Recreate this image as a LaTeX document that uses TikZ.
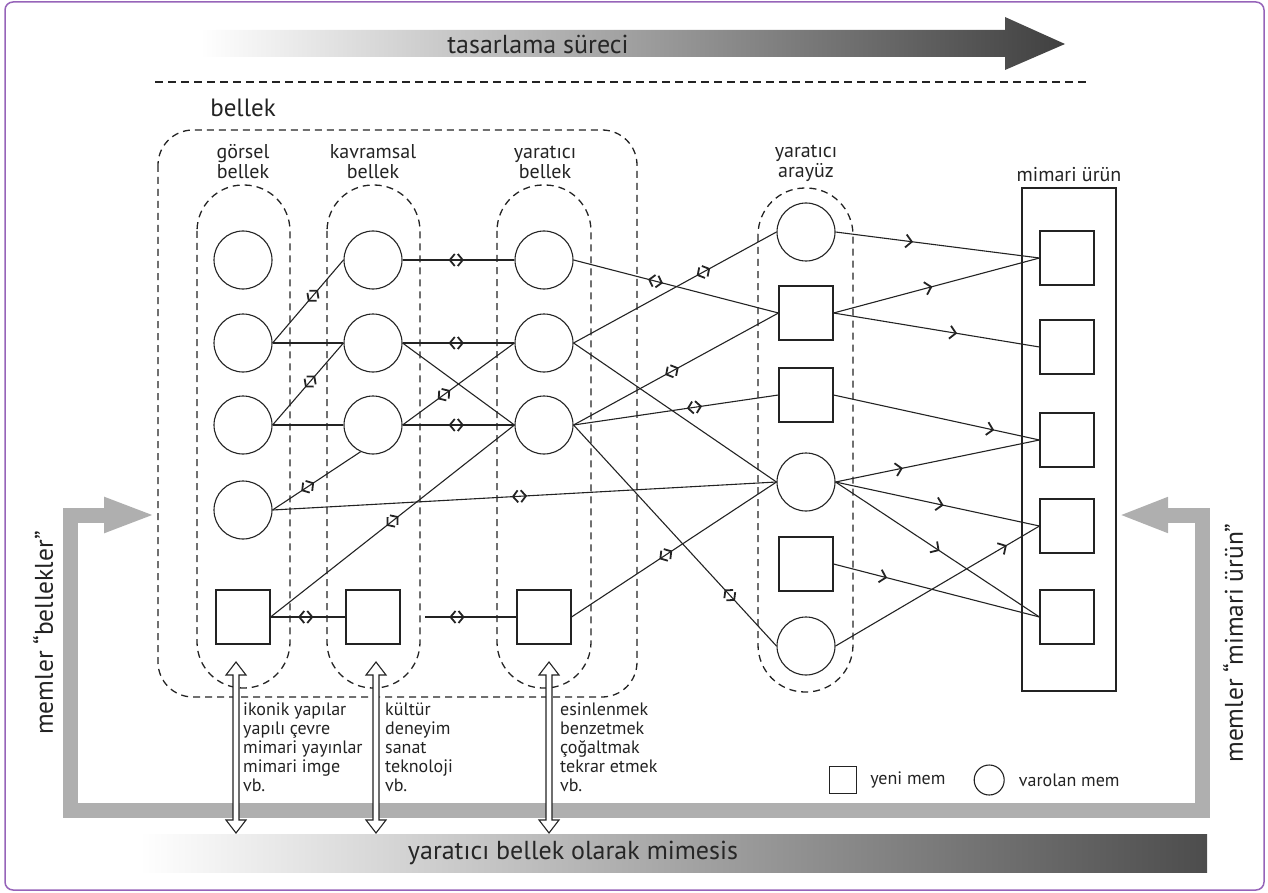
\documentclass[tikz,border=0pt]{standalone}
\usepackage{fontspec}
\setmainfont{PT Sans}
\usetikzlibrary{arrows.meta, positioning, decorations.markings}
\definecolor{ink}{RGB}{35, 35, 35}
\definecolor{frame}{RGB}{150, 100, 185}
\definecolor{feed}{RGB}{175, 175, 175}
\newcommand{\hollowarrow}[3]{%
  \filldraw[draw=ink, fill=white, line width=1.1pt]
    (#1-3,#2+13) -- (#1-10,#2+13) -- (#1,#2) -- (#1+10,#2+13) -- (#1+3,#2+13)
    -- (#1+3,#3-13) -- (#1+10,#3-13) -- (#1,#3) -- (#1-10,#3-13) -- (#1-3,#3-13) -- cycle;}

\begin{document}
\begin{tikzpicture}[x=1pt, y=-1pt,
    mem/.style={draw=ink, line width=1.1pt, circle, minimum size=58pt, inner sep=0pt},
    newmem/.style={draw=ink, line width=1.1pt, rectangle, minimum size=54pt, inner sep=0pt},
    grp/.style={draw=ink, dash pattern=on 7pt off 5pt, line width=1.3pt},
    lbl/.style={align=center, text=ink, inner sep=0pt, font=\fontsize{20}{20}\selectfont},
    list/.style={align=left, text=ink, inner sep=0pt, anchor=north west, font=\fontsize{18}{19}\selectfont},
    banner/.style={text=black!85, inner sep=0pt, font=\fontsize{26}{26}\selectfont},
    side/.style={text=ink, inner sep=0pt, rotate=90, font=\fontsize{25.5}{26}\selectfont},
    legend/.style={text=ink, inner sep=0pt, font=\fontsize{18}{18}\selectfont},
    con/.style={draw=ink, line width=1.1pt},
    bidir/.style={postaction={decorate, decoration={markings, mark=at position #1 with
      {\draw[ink, line width=1.8pt, line join=miter] (-1.5pt,-6pt) -- (-6.5pt,0pt) -- (-1.5pt,6pt)
         (1.5pt,-6pt) -- (6.5pt,0pt) -- (1.5pt,6pt);}}}},
    fwd/.style={postaction={decorate, decoration={markings, mark=at position #1 with
      {\arrow[ink]{Straight Barb[length=6pt,width=13pt,line width=1.8pt]}}}}},
    feedback/.style={draw=feed, line width=15pt, {Triangle[length=52pt,width=32pt]}-{Triangle[length=50pt,width=32pt]}}
  ]
  \useasboundingbox (0,0) rectangle (1268,893);
  \draw[frame, line width=1.5pt, rounded corners=8pt] (5,2) rectangle (1264,890);

  % design process arrow
  \shade[left color=white, right color=black!75]
    (200,30) -- (1005,30) -- (1005,17) -- (1065,44) -- (1005,70) -- (1005,57) -- (200,57) -- cycle;
  \node[banner] (surec) at (538,44) {tasarlama süreci};
  \draw[ink, dash pattern=on 8pt off 5pt, line width=1.8pt] (155,82) -- (1090,82);

  % memory groups
  \node[lbl, font=\fontsize{25}{25}\selectfont] (bellek) at (243,108) {bellek};
  \draw[grp, rounded corners=35pt] (158,130) rectangle (637,697);
  \draw[grp, rounded corners=46pt] (197,185) rectangle (290,688);
  \draw[grp, rounded corners=46pt] (327,185) rectangle (420,688);
  \draw[grp, rounded corners=46pt] (497,185) rectangle (591,688);
  \draw[grp, rounded corners=47pt] (758,188) rectangle (853,692);
  \node[lbl] (gorselL) at (243,162) {görsel\\bellek};
  \node[lbl] (kavramL) at (373,162) {kavramsal\\bellek};
  \node[lbl] (yaraticiL) at (545,162) {yaratıcı\\bellek};
  \node[lbl] (arayuzL) at (806,163) {yaratıcı\\arayüz};

  \foreach \col/\x in {G/243, K/373, Y/544}{
    \node[mem] (\col1) at (\x,260) {};
    \node[mem] (\col2) at (\x,343) {};
    \node[mem] (\col3) at (\x,425) {};
    \node[newmem] (\col S) at (\x,617) {};
  }
  \node[mem] (G4) at (243,510) {};
  \coordinate (KSgap) at (425,617);

  % creative interface
  \node[mem] (A1) at (806,232) {};
  \node[newmem] (AS1) at (806,313) {};
  \node[newmem] (AS2) at (806,395) {};
  \node[mem] (A2) at (806,482) {};
  \node[newmem] (AS3) at (806,564) {};
  \node[mem] (A3) at (806,646) {};

  % architectural product
  \node[draw=ink, line width=1.2pt, minimum width=94pt, minimum height=503pt, inner sep=0pt] (urun) at (1069,439.5) {};
  \node[lbl, above=5pt of urun] (urunL) {mimari ürün};
  \foreach \i/\y in {1/258, 2/347, 3/440, 4/526, 5/617}
    \node[newmem] (M\i) at (1067,\y) {};

  % links inside memory
  \draw[con, bidir=0.57] (G2.east) -- (K1.west);
  \draw[con] (G2.east) -- (K2.west);
  \draw[con, bidir=0.53] (G3.east) -- (K2.west);
  \draw[con] (G3.east) -- (K3.west);
  \draw[con, bidir=0.40] (G4.east) -- (K3.245);
  \draw[con, bidir=0.49] (G4.east) -- (A2.west);
  \draw[con, bidir=0.47] (GS.east) -- (KS.west);
  \draw[con, bidir=0.50] (GS.east) -- (Y3.west);
  \draw[con, bidir=0.48] (K1.east) -- (Y1.west);
  \draw[con, bidir=0.48] (K2.east) -- (Y2.west);
  \draw[con] (K2.east) -- (Y3.west);
  \draw[con, bidir=0.37] (K3.east) -- (Y2.west);
  \draw[con, bidir=0.48] (K3.east) -- (Y3.west);
  \draw[con, bidir=0.35] (KSgap) -- (YS.west);

  % memory to interface
  \draw[con, bidir=0.40] (Y1.east) -- (AS1.west);
  \draw[con, bidir=0.64] (Y2.east) -- (A1.west);
  \draw[con] (Y2.east) -- (A2.west);
  \draw[con, bidir=0.48] (Y3.east) -- (AS1.west);
  \draw[con, bidir=0.59] (Y3.east) -- (AS2.west);
  \draw[con, bidir=0.77] (Y3.east) -- (A3.west);
  \draw[con, bidir=0.46] (YS.east) -- (A2.west);

  % interface to product
  \draw[con, fwd=0.38] (A1.east) -- (M1.west);
  \draw[con, fwd=0.48] (AS1.east) -- (M1.west);
  \draw[con, fwd=0.60] (AS1.east) -- (M2.west);
  \draw[con, fwd=0.78] (AS2.east) -- (M3.west);
  \draw[con, fwd=0.33] (A2.east) -- (M3.west);
  \draw[con, fwd=0.53] (A2.east) -- (M4.west);
  \draw[con, fwd=0.51] (A2.east) -- (M5.west);
  \draw[con, fwd=0.26] (AS3.east) -- (M5.west);
  \draw[con, fwd=0.84] (A3.east) -- (M4.west);

  % feedback loop
  \coordinate (inL) at (156,515);
  \coordinate (inR) at (1118,515);
  \draw[feedback] (inL) -- (70,515) -- (70,810) -- (1202,810) -- (1202,515) -- (inR);
  \node[side] (memBellek) at (43,633) {memler “bellekler”};
  \node[side] (memUrun) at (1233,643) {memler “mimari ürün”};

  % mimesis bar
  \shade[left color=white, right color=black!70] (140,834) rectangle (1207,872);
  \node[banner] (mimesis) at (573,853) {yaratıcı bellek olarak mimesis};

  % sources
  \hollowarrow{236}{662}{833}
  \hollowarrow{376}{662}{833}
  \hollowarrow{549}{662}{833}
  \node[list] (srcG) at (243,703) {ikonik yapılar\\yapılı çevre\\mimari yayınlar\\mimari imge\\vb.};
  \node[list] (srcK) at (385,703) {kültür\\deneyim\\sanat\\teknoloji\\vb.};
  \node[list] (srcY) at (560,703) {esinlenmek\\benzetmek\\çoğaltmak\\tekrar etmek\\vb.};

  % legend
  \node[newmem, minimum size=27pt] (keyNew) at (843,780) {};
  \node[legend, right=13pt of keyNew] (keyNewT) {yeni mem};
  \node[mem, minimum size=30pt, right=28pt of keyNewT] (keyOld) {};
  \node[legend, right=14pt of keyOld] (keyOldT) {varolan mem};
\end{tikzpicture}
\end{document}
